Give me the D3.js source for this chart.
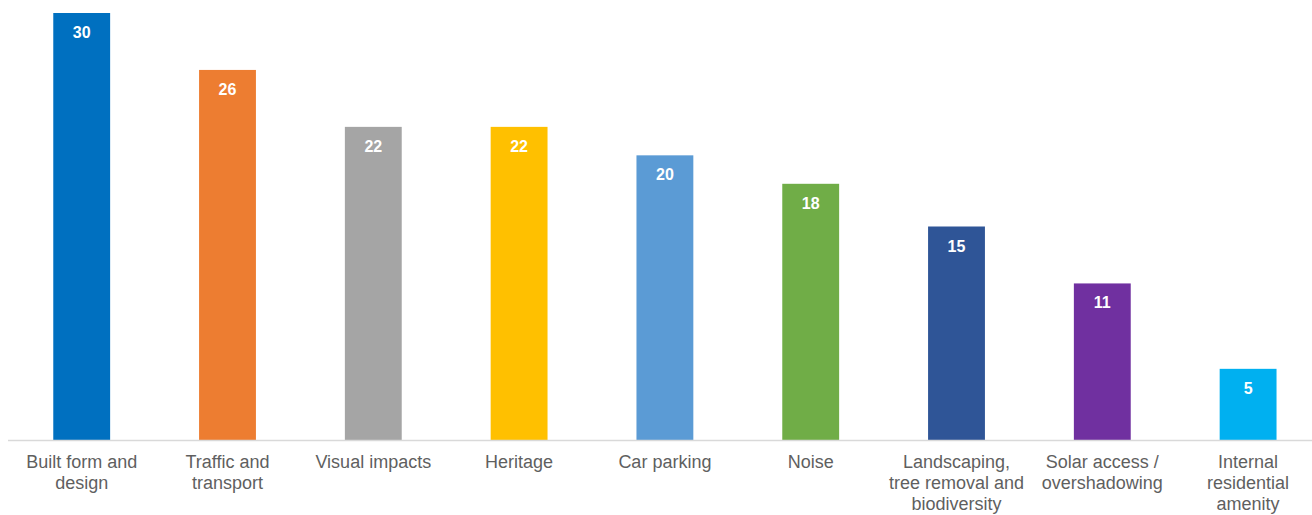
<!DOCTYPE html>
<html>
<head>
<meta charset="utf-8">
<script src="https://cdn.jsdelivr.net/npm/d3@7"></script>
<style>
  body { margin: 0; background: #fff; }
  svg { display: block; font-family: "Liberation Sans", Arial, sans-serif; }
</style>
</head>
<body>
<div class="bar-chart-container"></div>
<script>
// Data.
const categories = [
  ["Built form and", "design"],
  ["Traffic and", "transport"],
  ["Visual impacts"],
  ["Heritage"],
  ["Car parking"],
  ["Noise"],
  ["Landscaping,", "tree removal and", "biodiversity"],
  ["Solar access /", "overshadowing"],
  ["Internal", "residential", "amenity"],
];
const values = [30, 26, 22, 22, 20, 18, 15, 11, 5];
const colors = [
  "#0070C0", "#ED7D31", "#A5A5A5", "#FFC000", "#5B9BD5",
  "#70AD47", "#2F5597", "#7030A0", "#00B0F0",
];

const width = 1312;
const height = 515;
const baseY = 440;

const svg = d3
  .select(".bar-chart-container")
  .append("svg")
  .attr("width", width)
  .attr("height", height);

// Scales.
const xScale = d3
  .scaleBand()
  .domain(d3.range(values.length))
  .range([8.8, 1321])
  .paddingInner(0.61)
  .paddingOuter(0.305);

const yScale = d3.scaleLinear().domain([0, 30]).range([baseY, 13]);

// Bars.
svg
  .append("g")
  .selectAll("rect")
  .data(values)
  .enter()
  .append("rect")
  .attr("x", (d, i) => xScale(i))
  .attr("y", (d) => yScale(d))
  .attr("width", xScale.bandwidth())
  .attr("height", (d) => yScale(0) - yScale(d))
  .attr("fill", (d, i) => colors[i]);

// Value labels.
svg
  .append("g")
  .selectAll("text")
  .data(values)
  .enter()
  .append("text")
  .attr("x", (d, i) => xScale(i) + xScale.bandwidth() / 2)
  .attr("y", (d) => yScale(d) + 25)
  .attr("text-anchor", "middle")
  .style("font-size", "16px")
  .style("font-weight", "bold")
  .style("fill", "#fff")
  .text((d) => d);

// Baseline.
svg
  .append("line")
  .attr("x1", 8)
  .attr("x2", width)
  .attr("y1", baseY + 0.5)
  .attr("y2", baseY + 0.5)
  .style("stroke", "#d9d9d9")
  .style("stroke-width", 1.5);

// Category labels.
const catLabels = svg
  .append("g")
  .selectAll("text")
  .data(categories)
  .enter()
  .append("text")
  .attr("x", (d, i) => xScale(i) + xScale.bandwidth() / 2)
  .attr("y", 468)
  .attr("text-anchor", "middle")
  .style("font-size", "18px")
  .style("fill", "#5f5f5f");

catLabels
  .selectAll("tspan")
  .data((d) => d)
  .enter()
  .append("tspan")
  .attr("x", function () {
    return d3.select(this.parentNode).attr("x");
  })
  .attr("dy", (d, i) => (i === 0 ? 0 : 21))
  .text((d) => d);
</script>
</body>
</html>
